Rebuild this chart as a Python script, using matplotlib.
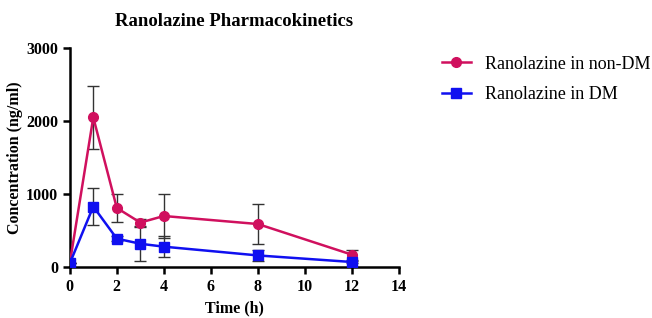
import numpy as np
import matplotlib as mpl
mpl.use('Agg')
import matplotlib.pyplot as plt

time_h = [0, 1, 2, 3, 4, 8, 12]
non_dm = [50, 2050, 810, 610, 700, 590, 170]
non_dm_sd = [0, 430, 190, 50, 300, 270, 70]
dm = [50, 830, 390, 320, 280, 160, 70]
dm_sd = [0, 250, 30, 230, 140, 70, 20]

mpl.rcParams['font.family'] = ['Liberation Serif', 'DejaVu Serif']

fig = plt.figure(figsize=(6.52, 3.18), dpi=100)
ax = fig.add_axes([0.107, 0.160, 0.505, 0.689])

e1 = ax.errorbar(time_h, non_dm, yerr=non_dm_sd, color='#d0105e', marker='o',
                 markersize=7, lw=1.8, ecolor='#333333', elinewidth=1, capsize=4,
                 capthick=1, label='Ranolazine in non-DM', zorder=3)
e2 = ax.errorbar(time_h, dm, yerr=dm_sd, color='#1010f0', marker='s',
                 markersize=7, lw=1.8, ecolor='#333333', elinewidth=1, capsize=4,
                 capthick=1, label='Ranolazine in DM', zorder=3)

ax.set_xlim(0, 14)
ax.set_ylim(0, 3000)
ax.set_xticks(range(0, 15, 2))
ax.set_yticks([0, 1000, 2000, 3000])
for s in ['top', 'right']:
    ax.spines[s].set_visible(False)
for s in ['left', 'bottom']:
    ax.spines[s].set_linewidth(1.8)
ax.tick_params(width=1.8, length=5, labelsize=11.5)
for lab in ax.get_xticklabels() + ax.get_yticklabels():
    lab.set_fontweight('bold')

ax.set_xlabel('Time (h)', fontsize=11.5, fontweight='bold')
ax.set_ylabel('Concentration (ng/ml)', fontsize=11.5, fontweight='bold', labelpad=2)
ax.set_title('Ranolazine Pharmacokinetics', fontsize=13.5, fontweight='bold', pad=16)

ax.legend([e1.lines[0], e2.lines[0]], ['Ranolazine in non-DM', 'Ranolazine in DM'],
          loc='upper left', bbox_to_anchor=(1.08, 1.04), frameon=False,
          fontsize=13, handlelength=1.6, handletextpad=0.8, labelspacing=0.75)

fig.savefig('out.png', dpi=100)
